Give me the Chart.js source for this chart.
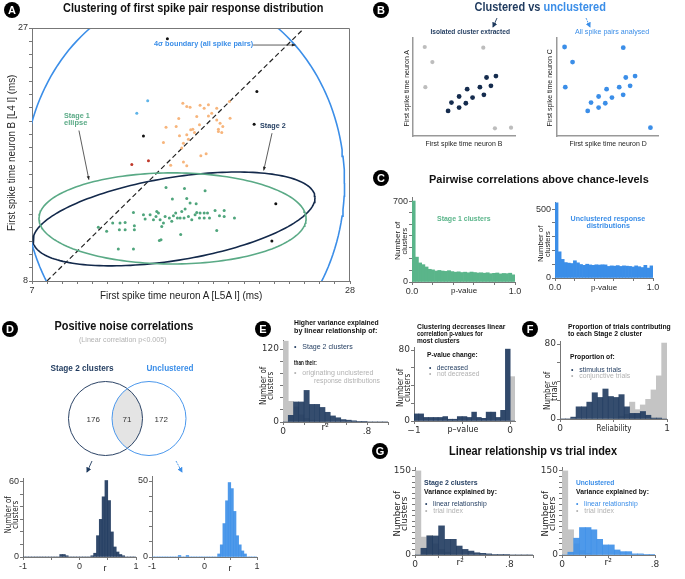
<!DOCTYPE html>
<html>
<head>
<meta charset="utf-8">
<script src="https://cdn.jsdelivr.net/npm/chart.js@4.4.1/dist/chart.umd.min.js"></script>
<style>
  body { margin: 0; background: #fff; font-family: "Liberation Sans", Arial, sans-serif; }
  #fig { position: relative; width: 685px; height: 579px; overflow: hidden; background: #fff; }
  .box { position: absolute; }
  .t { position: absolute; white-space: nowrap; line-height: 1.15; }
  .lab { position: absolute; width: 16px; height: 16px; border-radius: 50%; background: #000; color: #fff;
         font-weight: bold; font-size: 11px; text-align: center; line-height: 16px; }
  svg { position: absolute; left: 0; top: 0; }
</style>
</head>
<body>
<div id="fig"></div>
<script>
// ---- A: first spike times (ms) ----
const stage1X = [15.85,17.07,18.43,16.27,17.22,17.44,17.84,13.70,15.24,14.36,15.35,16.49,16.89,17.11,17.88,18.10,18.37,18.59,19.09,19.69,15.19,15.79,16.07,16.78,17.04,17.55,18.06,18.37,18.72,19.38,19.69,20.37,11.38,12.33,12.81,13.15,13.76,14.47,15.68,16.23,12.77,13.15,13.76,11.93,15.57,16.82,19.20,15.41,15.52,12.70,13.70,15.02,16.34,16.60,17.77,17.33,15.46,14.80];
const stage1Y = [15.02,14.95,14.78,14.15,14.20,13.85,13.80,13.15,13.22,12.97,13.10,13.10,13.22,13.40,13.15,13.10,13.10,13.10,13.30,13.30,12.85,12.85,12.73,12.73,12.73,12.60,12.73,12.73,12.73,12.90,12.85,12.73,12.03,12.35,12.35,12.40,12.15,12.65,12.35,12.48,11.85,11.85,11.85,11.73,12.10,11.50,11.80,11.05,11.10,10.40,10.40,12.60,12.90,12.73,12.97,12.85,12.60,12.97];
const orangeX = [16.96,17.22,17.44,18.10,18.65,18.37,19.20,20.04,16.69,17.88,18.65,19.20,20.08,19.42,19.60,15.85,16.52,17.48,17.62,18.06,16.74,17.22,17.73,19.31,19.53,15.68,17.00,17.33,16.89,18.15,18.50,16.16,17.00,17.22,18.87,19.31];
const orangeY = [21.35,21.10,21.05,21.20,21.23,20.98,20.98,21.48,20.20,20.35,20.40,20.10,20.23,19.85,19.60,19.55,19.60,19.35,19.40,19.73,18.90,18.98,19.15,19.23,19.15,18.40,18.35,18.65,17.98,17.40,17.55,16.70,16.93,16.65,20.60,19.40];
const blackX = [15.94,21.85,21.67,14.36,23.10,22.84];
const blackY = [26.2,22.23,19.78,18.88,13.8,11.0];
const redX = [13.59,14.69];
const redY = [16.75,17.03];
const cyanX = [14.64,13.92];
const cyanY = [21.53,20.6];
// ellipses: centre x, centre y, then two half-axis vectors (ms)
const ellipse4sd = [17.04,15.36, 10.6,0, 0,14.34];
const ellipseStage1 = [16.28,12.70, 8.82,0, 0,3.42];
const ellipseStage2 = [16.38,12.66, 9.31,1.58, 0,3.15];
const diagX = [7.99, 24.9];
const diagY = [8, 26.9];
const arrowsA = [[21.6,25.72,24.4,25.72],[10.1,19.3,10.76,15.6],[22.85,19.1,22.3,16.3]];

// ---- B: schematic scatter ----
const clusterX = [3.44,3.77,4.52,4.52,5.18,5.31,5.84,6.56,6.95,7.21,7.64,8.13];
const clusterY = [2.56,3.41,2.90,4.03,3.34,4.78,3.92,4.98,4.20,5.97,5.12,6.11];
const outlierX = [1.15,1.90,1.21,6.89,8.03,9.61];
const outlierY = [9.08,7.54,4.98,9.01,0.78,0.85];
const unclOutX = [1.15,1.94,1.22,6.96,9.65];
const unclOutY = [9.08,7.54,4.98,9.01,0.85];

// ---- C: p-value histograms (32 bins over 0..1) ----
const pStage1 = [700,215,165,150,130,110,105,95,100,95,92,98,90,85,88,82,85,80,86,82,78,80,76,80,72,75,78,70,74,72,76,62];
const pUnclustered = [545,190,135,112,108,105,125,110,98,92,100,95,92,96,94,96,95,84,88,86,90,84,88,86,84,80,88,82,76,92,72,88];

// ---- D: venn counts + r histograms (0.05 bins from -1) ----
const vennCounts = [176, 71, 172];
const vennCentreX = [4.55, 8.9];
const vennCentreY = [4.65, 4.65];
const rStage2 = [0,0,0,0,0,0,0,0,0,0,0,0,0,2,2,1,0,0,0,0,0,0,0,0,1,3,17,30,48,61,45,20,8,4,2,1,0,0,0,0];
const rUnclustered = [0,0,0,0,0,0,0,0,0,0,1,0,0,1,0,0,0,0,0,0,0,0,0,0,0,2,8,22,37,49,45,30,14,8,4,2,0,0,0,0];

// ---- E: r^2 (0.05 bins from 0) and p-value change (0.05 bins from -1) ----
const r2Stage2 = [0,11,33,33,52,29,29,24,16,10,7,4,3,2,1,1,0,0,0,0];
const r2Origin = [133,34,25,12,6,3,2,1,0,0,0,0,0,0,0,0,0,0,0,0];
const dpDecreased = [8,8,4,4,4,4,5,2,2,5,5,4,10,4,3,10,10,4,12,81,0];
const dpNotDecreased = [0,0,0,0,0,0,0,0,0,0,0,0,0,0,0,0,0,0,0,0,50];

// ---- F: reliability (0.05 bins from 0) ----
const relStimulus = [0,0,2,13,13,18,28,23,32,24,23,26,13,6,6,8,4,1,1,0];
const relConjunctive = [0,0,0,0,0,0,0,0,0,0,1,3,5,18,10,15,21,31,46,81];

// ---- G: r^2 vs trial index (0.05 bins from 0) ----
const gLinStage2 = [0,12,34,34,52,28,28,16,10,7,4,3,2,1,1,1,0,0,0,0];
const gTrialStage2 = [150,32,35,20,10,5,2,1,0,0,0,0,0,0,0,0,0,0,0,0];
const gLinUncl = [0,5,30,49,49,45,28,18,18,9,6,6,2,2,1,1];
const gTrialUncl = [150,45,20,8,3,1,0,0,0,0,0,0,0,0,0,0];

const NAVY = "#1f3a5e", BLUE = "#3b8ee8", GREEN = "#5ab58a", GREY = "#c4c4c4", GREYT = "#b2b2b2";
const SANS = '"Liberation Sans", Arial, sans-serif';
const DJV = '"DejaVu Sans", sans-serif';
Chart.defaults.font.family = SANS;
Chart.defaults.color = "#333";

const fig = document.getElementById("fig");

function txt(s, x, y, o = {}) {
  const d = document.createElement("div");
  d.className = "t";
  d.innerHTML = s;
  d.style.fontSize = (o.size || 8) + "px";
  d.style.fontWeight = o.bold ? "bold" : "normal";
  d.style.color = o.color || "#222";
  if (o.font) d.style.fontFamily = o.font;
  fig.appendChild(d);
  const w = d.offsetWidth, h = d.offsetHeight;
  const sx = o.w ? o.w / w : 1;
  const ax = o.align === "left" ? 0 : o.align === "right" ? -1 : -0.5;
  d.style.left = x + "px";
  d.style.top = y + "px";
  d.style.transformOrigin = "0 0";
  d.style.transform = `rotate(${o.rot || 0}deg) translate(${ax * w * sx}px, ${-h / 2}px) scaleX(${sx})`;
}

function letter(ch, x, y) {
  const d = document.createElement("div");
  d.className = "lab";
  d.textContent = ch;
  d.style.left = (x - 8) + "px";
  d.style.top = (y - 8) + "px";
  fig.appendChild(d);
}

function makeChart(area, yW, xH, cfg) {
  const pad = 8;
  const c = document.createElement("canvas");
  c.width = area[1] - area[0] + yW + 2 * pad;
  c.height = area[3] - area[2] + xH + 2 * pad;
  c.className = "box";
  c.style.left = (area[0] - yW - pad) + "px";
  c.style.top = (area[2] - pad) + "px";
  fig.appendChild(c);
  cfg.options.responsive = false;
  cfg.options.animation = false;
  cfg.options.layout = { padding: pad };
  cfg.options.plugins = Object.assign({ legend: { display: false }, tooltip: { enabled: false } }, cfg.options.plugins || {});
  return new Chart(c, cfg);
}

function axis(pos, min, max, step, labels, size, font, showTicks = true) {
  return {
    type: "linear", position: pos, min, max, offset: false,
    ticks: {
      display: showTicks, stepSize: step, autoSkip: false, maxRotation: 0, includeBounds: false, padding: 1,
      font: { size: 9, family: font || SANS }, color: "#333",
      callback: v => {
        for (const [val, s] of labels) if (Math.abs(v - val) < 1e-6) return s;
        return "";
      }
    },
    grid: { display: true, offset: false, drawOnChartArea: false, drawTicks: showTicks, tickLength: 3, color: "#777" },
    border: { display: true, color: "#777", width: 1 },
    afterFit: s => {
      if (pos === "left") s.width = size; else s.height = size;
      s.paddingLeft = s.paddingRight = s.paddingTop = s.paddingBottom = 0;
    }
  };
}

const pts = (xs, ys) => xs.map((x, i) => ({ x, y: ys[i] }));
const bins = (start, width, counts) => counts.map((c, i) => ({ x: start + (i + 0.5) * width, y: c }));
const histDs = (data, color, order) => ({
  type: "bar", data, backgroundColor: color, borderWidth: 0, grouped: false,
  barPercentage: 1, categoryPercentage: 1, order
});
function ellipsePts(e) {
  const out = [];
  for (let i = 0; i <= 180; i++) {
    const t = i / 180 * 2 * Math.PI;
    out.push({ x: e[0] + e[2] * Math.cos(t) + e[4] * Math.sin(t), y: e[1] + e[3] * Math.cos(t) + e[5] * Math.sin(t) });
  }
  return out;
}
const lineDs = (data, color, dash) => ({
  data, showLine: true, borderColor: color, borderWidth: 1.6, pointRadius: 0, fill: false,
  borderDash: dash || [], order: 2
});
const dotDs = (data, color, r) => ({ data, backgroundColor: color, borderWidth: 0, pointRadius: r, order: 1 });

const framePlugin = {
  id: "frame",
  afterDraw(ch) {
    const { ctx, chartArea: a } = ch;
    ctx.save();
    ctx.strokeStyle = "#777";
    ctx.lineWidth = 1;
    ctx.beginPath();
    ctx.moveTo(a.left, a.top + 0.5);
    ctx.lineTo(a.right - 0.5, a.top + 0.5);
    ctx.lineTo(a.right - 0.5, a.bottom);
    ctx.stroke();
    ctx.restore();
  }
};
const arrowPlugin = {
  id: "arrowsA",
  afterDatasetsDraw(ch) {
    const { ctx } = ch, xs = ch.scales.x, ys = ch.scales.y;
    ctx.save();
    ctx.strokeStyle = "#333";
    ctx.fillStyle = "#222";
    ctx.lineWidth = 0.8;
    for (const [x1, y1, x2, y2] of arrowsA) {
      const ax = xs.getPixelForValue(x1), ay = ys.getPixelForValue(y1);
      const bx = xs.getPixelForValue(x2), by = ys.getPixelForValue(y2);
      const ang = Math.atan2(by - ay, bx - ax);
      ctx.beginPath(); ctx.moveTo(ax, ay); ctx.lineTo(bx, by); ctx.stroke();
      ctx.beginPath();
      ctx.moveTo(bx, by);
      ctx.lineTo(bx - 4 * Math.cos(ang - 0.4), by - 4 * Math.sin(ang - 0.4));
      ctx.lineTo(bx - 4 * Math.cos(ang + 0.4), by - 4 * Math.sin(ang + 0.4));
      ctx.closePath(); ctx.fill();
    }
    ctx.restore();
  }
};

// ---------- A ----------
const tickA = (a, b) => [[a, String(a)], [b, String(b)]];
makeChart([32, 350, 28, 281], 24, 14, {
  type: "scatter",
  data: { datasets: [
    lineDs(ellipsePts(ellipse4sd), BLUE),
    lineDs(ellipsePts(ellipseStage1), "#5aaa86"),
    lineDs(ellipsePts(ellipseStage2), "#13294b"),
    Object.assign(lineDs(pts(diagX, diagY), "#222", [5, 3]), { borderWidth: 1.2 }),
    dotDs(pts(stage1X, stage1Y), "#4fa57c", 1.5),
    dotDs(pts(orangeX, orangeY), "#f7b57c", 1.5),
    dotDs(pts(blackX, blackY), "#111", 1.5),
    dotDs(pts(redX, redY), "#c0392b", 1.5),
    dotDs(pts(cyanX, cyanY), "#5fb4e8", 1.5)
  ] },
  options: { scales: {
    x: axis("bottom", 7, 28, 1, tickA(7, 28), 14, SANS),
    y: axis("left", 8, 27, 1, tickA(8, 27), 24, SANS)
  } },
  plugins: [framePlugin, arrowPlugin]
});

// ---------- B ----------
function schematic(area, xmin, datasets) {
  makeChart(area, 0, 0, {
    type: "scatter",
    data: { datasets },
    options: { scales: {
      x: Object.assign(axis("bottom", xmin, xmin + 10, 1, [], 0, SANS, false), { border: { color: "#999", width: 1.5 } }),
      y: Object.assign(axis("left", 0, 10, 1, [], 0, SANS, false), { border: { color: "#999", width: 1.5 } })
    } }
  });
}
schematic([413, 515, 38, 136], 0, [dotDs(pts(outlierX, outlierY), "#bdbdbd", 2.1), dotDs(pts(clusterX, clusterY), "#152c4e", 2.4)]);
schematic([557, 658, 38, 136], 0.4, [dotDs(pts(unclOutX, unclOutY), BLUE, 2.4), dotDs(pts(clusterX, clusterY), BLUE, 2.4)]);

// ---------- histogram helper ----------
function hist(area, yW, xH, xr, yr, datasets, font) {
  makeChart(area, yW, xH, {
    type: "bar",
    data: { datasets },
    options: { scales: {
      x: axis("bottom", xr[0], xr[1], xr[2], xr[3], xH, font),
      y: axis("left", yr[0], yr[1], yr[2], yr[3], yW, font)
    } }
  });
}

// ---------- C ----------
const pTicks = [[0, "0.0"], [1, "1.0"]];
hist([412, 515, 197, 282], 22, 12, [0, 1, 0.2, pTicks], [0, 735, 100, [[0, "0"], [700, "700"]]],
  [histDs(bins(0, 1 / 32, pStage1), GREEN, 0)]);
hist([555, 653, 202, 278], 22, 12, [0, 1, 0.2, pTicks], [0, 551, 100, [[0, "0"], [500, "500"]]],
  [histDs(bins(0, 1 / 32, pUnclustered), BLUE, 0)]);

// ---------- D venn ----------
const vennRadius = 37;
const vennPlugin = {
  id: "venn",
  afterDatasetsDraw(ch) {
    const a = ch.getDatasetMeta(0).data[0], b = ch.getDatasetMeta(1).data[0];
    const { ctx } = ch;
    ctx.save();
    ctx.beginPath(); ctx.arc(a.x, a.y, vennRadius, 0, 2 * Math.PI); ctx.clip();
    ctx.beginPath(); ctx.arc(b.x, b.y, vennRadius, 0, 2 * Math.PI);
    ctx.fillStyle = "#e4e4e4"; ctx.fill();
    ctx.restore();
    ctx.save();
    ctx.lineWidth = 1;
    ctx.strokeStyle = "#2c4466";
    ctx.beginPath(); ctx.arc(a.x, a.y, vennRadius, 0, 2 * Math.PI); ctx.stroke();
    ctx.strokeStyle = "#4a97ec";
    ctx.beginPath(); ctx.arc(b.x, b.y, vennRadius, 0, 2 * Math.PI); ctx.stroke();
    ctx.restore();
  }
};
makeChart([60, 200, 375, 465], 0, 0, {
  type: "scatter",
  data: { datasets: [
    { data: [{ x: vennCentreX[0], y: vennCentreY[0] }], pointRadius: 0 },
    { data: [{ x: vennCentreX[1], y: vennCentreY[1] }], pointRadius: 0 }
  ] },
  options: { scales: { x: { display: false, min: 0, max: 14 }, y: { display: false, min: 0, max: 9 } } },
  plugins: [vennPlugin]
});

const rTicks = [[-1, "-1"], [0, "0"], [1, "1"]];
hist([23, 136, 478, 557], 20, 12, [-1, 1, 0.5, rTicks], [0, 63, 10, [[0, "0"], [60, "60"]]],
  [histDs(bins(-1, 0.05, rStage2), "rgba(31,58,94,0.92)", 0)]);
hist([152, 257, 476, 557], 20, 12, [-1, 1, 0.5, rTicks], [0, 53.3, 10, [[0, "0"], [50, "50"]]],
  [histDs(bins(-1, 0.05, rUnclustered), "rgba(59,142,232,0.9)", 0)]);

// ---------- E ----------
const r2Ticks = [[0, "0"], [0.8, ".8"]];
hist([283, 388, 340, 422], 20, 12, [0, 1, 0.2, r2Ticks], [0, 135, 20, [[0, "0"], [120, "120"]]],
  [histDs(bins(0, 0.05, r2Stage2), "rgba(31,58,94,0.9)", 0), histDs(bins(0, 0.05, r2Origin), GREY, 1)], DJV);
hist([414, 515, 347, 421], 20, 12, [-1, 0.05, 0.5, [[-1, "\u22121"], [0, "0"]]], [0, 83.4, 20, [[0, "0"], [80, "80"]]],
  [histDs(bins(-1, 0.05, dpDecreased), "rgba(31,58,94,0.92)", 0), histDs(bins(-1, 0.05, dpNotDecreased), GREY, 1)], DJV);

// ---------- F ----------
hist([560, 667, 341, 419], 20, 12, [0, 1, 0.5, [[0, "0"], [1, "1"]]], [0, 83.2, 20, [[0, "0"], [80, "80"]]],
  [histDs(bins(0, 0.05, relStimulus), "rgba(31,58,94,0.9)", 0), histDs(bins(0, 0.05, relConjunctive), GREY, 1)], DJV);

// ---------- G ----------
hist([415, 533, 467, 555], 22, 12, [0, 1, 0.2, r2Ticks], [0, 157, 10, [[0, "0"], [150, "150"]]],
  [histDs(bins(0, 0.05, gLinStage2), "rgba(31,58,94,0.9)", 0), histDs(bins(0, 0.05, gTrialStage2), GREY, 1)], DJV);
hist([562, 655, 467, 555], 22, 12, [0, 0.8, 0.2, r2Ticks], [0, 157, 10, [[0, "0"], [150, "150"]]],
  [histDs(bins(0, 0.05, gLinUncl), "rgba(59,142,232,0.9)", 0), histDs(bins(0, 0.05, gTrialUncl), GREY, 1)], DJV);

// ---------- arrows outside the plots ----------
const svgNS = "http://www.w3.org/2000/svg";
const svg = document.createElementNS(svgNS, "svg");
svg.setAttribute("width", 685); svg.setAttribute("height", 579);
svg.innerHTML = `
<defs>
 <marker id="hn" markerWidth="6" markerHeight="6" refX="5" refY="3" orient="auto"><path d="M0,0 L6,3 L0,6 z" fill="${NAVY}"/></marker>
 <marker id="hb" markerWidth="6" markerHeight="6" refX="5" refY="3" orient="auto"><path d="M0,0 L6,3 L0,6 z" fill="${BLUE}"/></marker>
</defs>
<line x1="497" y1="18" x2="493" y2="27" stroke="${NAVY}" stroke-width="0.9" marker-end="url(#hn)"/>
<line x1="586" y1="18" x2="590" y2="27" stroke="${BLUE}" stroke-width="0.9" stroke-dasharray="2,1" marker-end="url(#hb)"/>
<line x1="92" y1="461" x2="87" y2="472" stroke="${NAVY}" stroke-width="0.9" marker-end="url(#hn)"/>
<line x1="176" y1="461" x2="182" y2="472" stroke="${BLUE}" stroke-width="0.9" stroke-dasharray="2,1" marker-end="url(#hb)"/>`;
fig.appendChild(svg);

// ---------- text ----------
letter("A", 12, 10); letter("B", 381, 10); letter("C", 381, 178); letter("D", 10, 329);
letter("E", 263, 329); letter("F", 530, 329); letter("G", 380, 451);

txt("Clustering of first spike pair response distribution", 193, 9, { size: 12, bold: true, w: 260, color: "#111" });
txt("First spike time neuron A [L5A I] (ms)", 181, 296, { size: 10, w: 162 });
txt("First spike time neuron B [L4 I] (ms)", 12, 153, { size: 10, w: 156, rot: -90 });
txt("4\u03c3 boundary (all spike pairs)", 154, 44, { size: 7.5, bold: true, color: BLUE, align: "left", w: 99 });
txt("Stage 1", 64, 116, { size: 7.5, bold: true, color: "#5aaa86", align: "left", w: 26 });
txt("ellipse", 64, 123, { size: 7.5, bold: true, color: "#5aaa86", align: "left", w: 23 });
txt("Stage 2", 260, 126, { size: 7.5, bold: true, color: NAVY, align: "left", w: 26 });

txt(`<span style="color:${NAVY}">Clustered vs </span><span style="color:${BLUE}">unclustered</span>`, 540, 8, { size: 12, bold: true, w: 131 });
txt("Isolated cluster extracted", 470, 32, { size: 7, bold: true, color: NAVY, w: 79 });
txt("All spike pairs analysed", 612, 32, { size: 7, color: BLUE, w: 74 });
txt("First spike time neuron A", 406, 88, { size: 6.5, rot: -90, w: 77 });
txt("First spike time neuron B", 464, 143, { size: 6.5, w: 77 });
txt("First spike time neuron C", 549, 88, { size: 6.5, rot: -90, w: 77 });
txt("First spike time neuron D", 608, 143, { size: 6.5, w: 77 });

txt("Pairwise correlations above chance-levels", 539, 179, { size: 11, bold: true, w: 220, color: "#111" });
txt("Stage 1 clusters", 464, 219, { size: 7.5, bold: true, color: GREEN, w: 54 });
txt("Unclustered response", 608, 219, { size: 7.5, bold: true, color: BLUE, w: 75 });
txt("distributions", 608, 226, { size: 7.5, bold: true, color: BLUE, w: 43 });
txt("Number of", 397, 241, { size: 8, rot: -90, w: 38 });
txt("clusters", 404, 241, { size: 8, rot: -90, w: 27 });
txt("Number of", 540, 244, { size: 8, rot: -90, w: 36 });
txt("clusters", 547, 244, { size: 8, rot: -90, w: 26 });
txt("p-value", 464, 290, { size: 8 });
txt("p-value", 604, 287, { size: 8 });

txt("Positive noise correlations", 124, 327, { size: 12, bold: true, w: 139, color: "#111" });
txt("(Linear correlation p&lt;0.005)", 123, 339, { size: 8, color: GREYT, w: 88 });
txt("Stage 2 clusters", 82, 368, { size: 9, bold: true, color: NAVY, w: 63 });
txt("Unclustered", 170, 368, { size: 9, bold: true, color: BLUE, w: 47 });
txt(String(vennCounts[0]), 93, 419, { size: 8, color: "#333" });
txt(String(vennCounts[1]), 127, 419, { size: 8, color: "#333" });
txt(String(vennCounts[2]), 161, 419, { size: 8, color: "#333" });
txt("Number of", 8, 515, { size: 8, rot: -90, font: DJV, w: 37 });
txt("clusters", 15, 515, { size: 8, rot: -90, font: DJV, w: 28 });
txt("r", 105, 568, { size: 9 });
txt("r", 230, 568, { size: 9 });

// E
txt("Higher variance explained", 294, 323, { size: 7, bold: true, align: "left", w: 85, color: "#111" });
txt("by linear relationship of:", 294, 331, { size: 7, bold: true, align: "left", w: 83, color: "#111" });
txt("\u2022&nbsp;&nbsp; Stage 2 clusters", 294, 347, { size: 7.5, color: NAVY, align: "left", w: 59 });
txt("than their:", 294, 362, { size: 6.5, bold: true, align: "left", w: 23, color: "#111" });
txt("\u2022&nbsp;&nbsp; originating unclustered", 294, 373, { size: 7.5, color: GREYT, align: "left", w: 79 });
txt("response distributions", 314, 381, { size: 7.5, color: GREYT, align: "left", w: 66 });
txt("Number of", 263, 386, { size: 8, rot: -90, font: DJV, w: 38 });
txt("clusters", 270, 386, { size: 8, rot: -90, font: DJV, w: 28 });
txt("r\u00b2", 325, 427, { size: 9, font: DJV });

txt("Clustering decreases linear", 417, 327, { size: 7, bold: true, align: "left", w: 88, color: "#111" });
txt("correlation p-values for", 417, 334, { size: 7, bold: true, align: "left", w: 66, color: "#111" });
txt("most clusters", 417, 341, { size: 7, bold: true, align: "left", w: 43, color: "#111" });
txt("P-value change:", 427, 355, { size: 7, bold: true, align: "left", w: 51, color: "#111" });
txt("\u2022&nbsp;&nbsp; decreased", 429, 368, { size: 7.5, color: NAVY, align: "left", w: 39 });
txt("\u2022&nbsp;&nbsp; not decreased", 429, 374, { size: 7.5, color: GREYT, align: "left", w: 50 });
txt("Number of", 400, 388, { size: 8, rot: -90, font: DJV, w: 38 });
txt("clusters", 407, 388, { size: 8, rot: -90, font: DJV, w: 28 });
txt("p\u2013value", 463, 429, { size: 8, font: DJV });

// F
txt("Proportion of trials contributing", 568, 327, { size: 7, bold: true, align: "left", w: 103, color: "#111" });
txt("to each Stage 2 cluster", 568, 334, { size: 7, bold: true, align: "left", w: 74, color: "#111" });
txt("Proportion of:", 570, 357, { size: 7, bold: true, align: "left", w: 45, color: "#111" });
txt("\u2022&nbsp;&nbsp; stimulus trials", 571, 370, { size: 7.5, color: NAVY, align: "left", w: 50 });
txt("\u2022&nbsp;&nbsp; conjunctive trials", 571, 376, { size: 7.5, color: GREYT, align: "left", w: 59 });
txt("Number of", 547, 391, { size: 8, rot: -90, font: DJV, w: 38 });
txt("trials", 554, 391, { size: 8, rot: -90, font: DJV, w: 20 });
txt("Reliability", 614, 428, { size: 8, font: DJV, w: 35 });

// G
txt("Linear relationship vs trial index", 533, 452, { size: 12, bold: true, w: 168, color: "#111" });
txt("Stage 2 clusters", 424, 483, { size: 7.5, bold: true, color: NAVY, align: "left", w: 54 });
txt("Variance explained by:", 424, 492, { size: 7.5, bold: true, align: "left", w: 73, color: "#111" });
txt("\u2022&nbsp;&nbsp; linear relationship", 425, 504, { size: 7.5, color: NAVY, align: "left", w: 62 });
txt("\u2022&nbsp;&nbsp; trial index", 425, 511, { size: 7.5, color: GREYT, align: "left", w: 38 });
txt("Unclustered", 576, 483, { size: 7.5, bold: true, color: BLUE, align: "left", w: 38 });
txt("Variance explained by:", 576, 492, { size: 7.5, bold: true, align: "left", w: 73, color: "#111" });
txt("\u2022&nbsp;&nbsp; linear relationship", 576, 504, { size: 7.5, color: BLUE, align: "left", w: 62 });
txt("\u2022&nbsp;&nbsp; trial index", 576, 511, { size: 7.5, color: GREYT, align: "left", w: 38 });
txt("Number of", 397, 514, { size: 8, rot: -90, font: DJV, w: 45 });
txt("clusters", 404, 514, { size: 8, rot: -90, font: DJV, w: 34 });
txt("Number of", 545, 514, { size: 8, rot: -90, font: DJV, w: 45 });
txt("clusters", 552, 514, { size: 8, rot: -90, font: DJV, w: 34 });
txt("r\u00b2", 460, 562, { size: 9, font: DJV });
txt("r\u00b2", 608, 562, { size: 9, font: DJV });
</script>
</body>
</html>
